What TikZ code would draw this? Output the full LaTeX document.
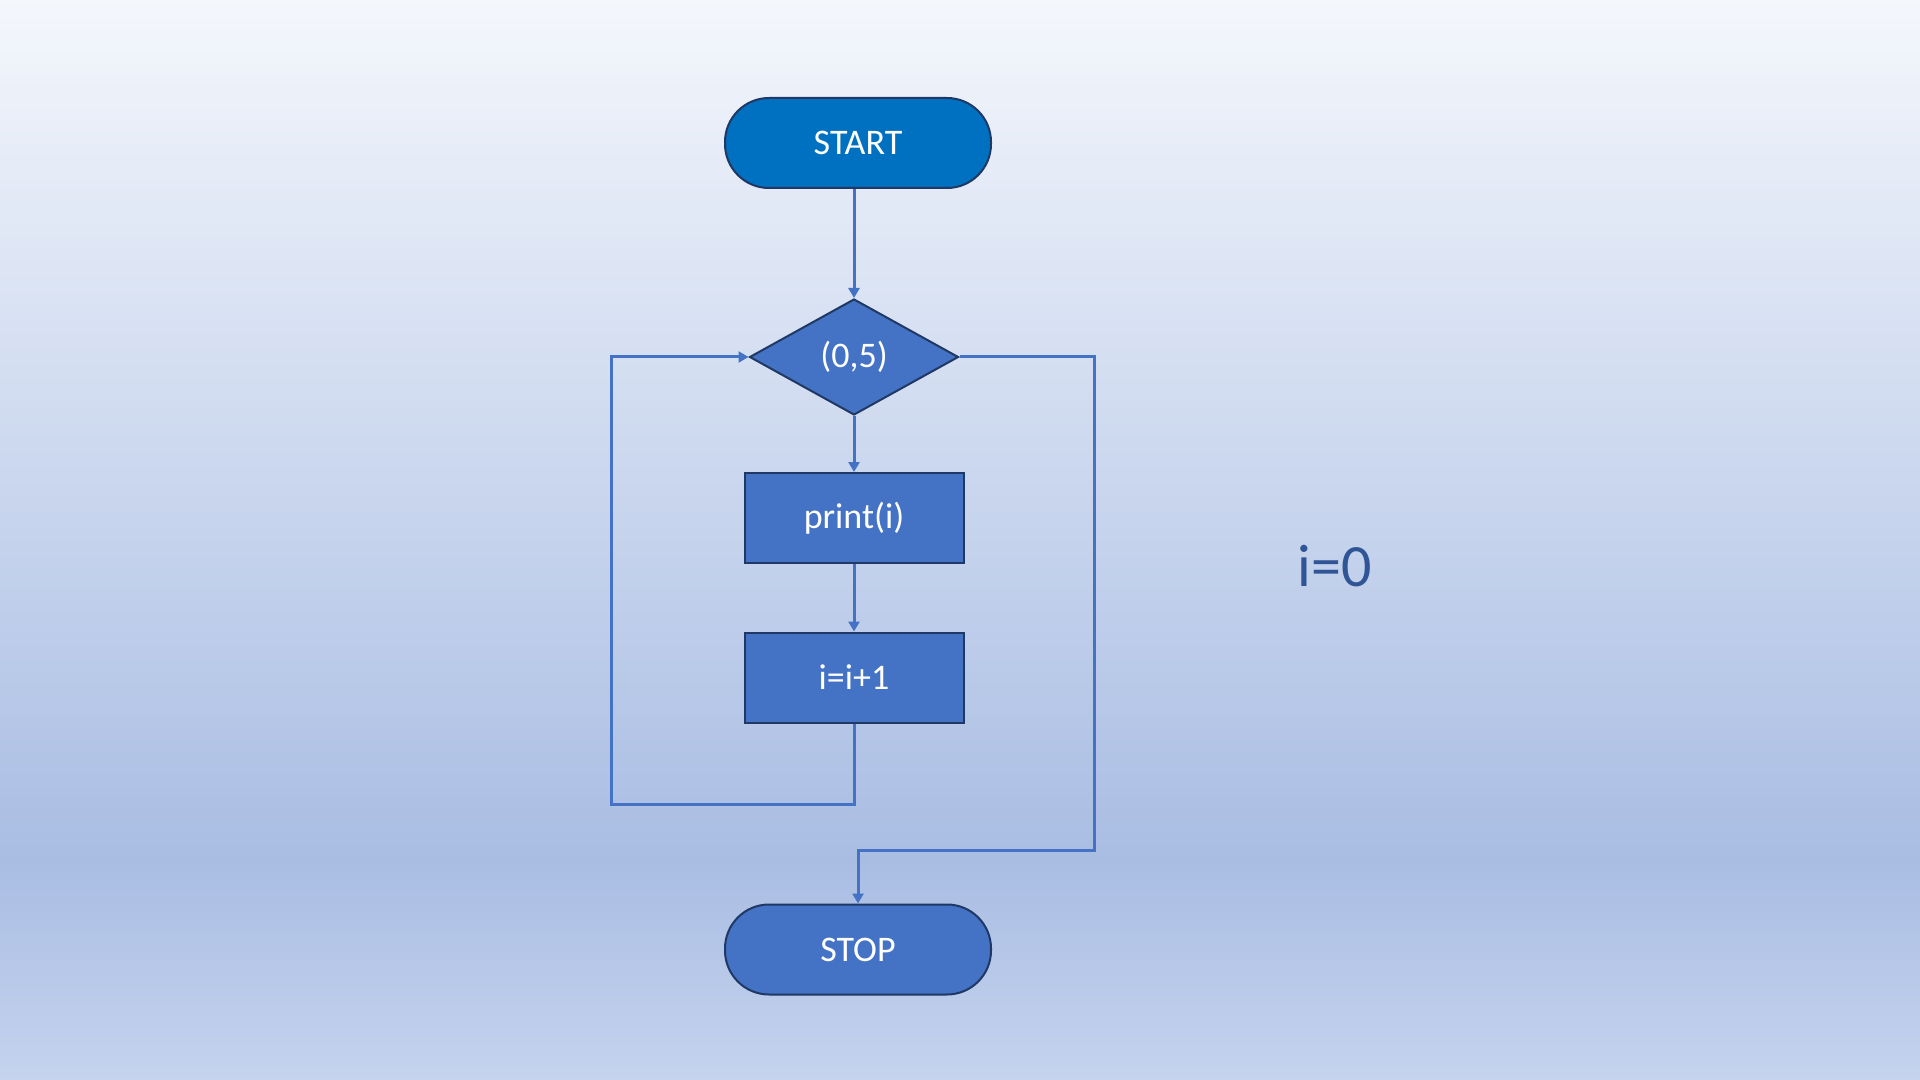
\documentclass[tikz,border=0pt]{standalone}
\usepackage{fontspec}
\setmainfont{Carlito}
\usetikzlibrary{arrows.meta,shapes.geometric}
\definecolor{bgtop}{HTML}{F4F7FC}
\definecolor{bgdark}{HTML}{A9BDE3}
\definecolor{bgbot}{HTML}{C5D3EE}
\definecolor{startfill}{HTML}{0070C0}
\definecolor{boxfill}{HTML}{4472C4}
\definecolor{outline}{HTML}{1F3864}
\definecolor{conn}{HTML}{4472C4}
\definecolor{vartext}{HTML}{2F5597}
\tikzset{
  base/.style={draw=outline, line width=1pt, text=white, inner sep=0pt,
    font=\fontsize{18pt}{21pt}\selectfont},
  terminal/.style={base, rectangle, rounded corners=22pt, minimum width=133pt, minimum height=45pt},
  procbox/.style={base, rectangle, fill=boxfill, minimum width=109.5pt, minimum height=45pt},
  decision/.style={base, diamond, fill=boxfill, minimum width=104.5pt, minimum height=58pt},
  flow/.style={draw=conn, line width=1.5pt, -{Triangle[length=5pt,width=5.5pt]}},
  flowline/.style={draw=conn, line width=1.5pt}
}
\begin{document}
\begin{tikzpicture}[x=0.5pt,y=-0.5pt]
\useasboundingbox (0,0) rectangle (1920,1080);
\shade[top color=bgtop, bottom color=bgdark] (0,0) rectangle (1920,860);
\shade[top color=bgdark, bottom color=bgbot] (0,860) rectangle (1920,1080);

\node[terminal, fill=startfill] (start) at (858,143) {START};
\node[decision] (dec) at (854,357) {(0,5)};
\node[procbox] (print) at (854,518) {print(i)};
\node[procbox] (inc) at (854,677.5) {i=i+1};
\node[terminal, fill=boxfill] (stop) at (858,949.5) {STOP};
\node[font=\fontsize{30pt}{36pt}\selectfont, text=vartext, inner sep=0pt] (ivar) at (1335,566) {i=0};

\coordinate (lb) at (854,804);
\coordinate (ll) at (611,804);
\coordinate (lt) at (611,357);
\coordinate (rt) at (1094,357);
\coordinate (rb) at (1094,850);
\coordinate (sb) at (858,850);

\draw[flow] (start.south -| dec.north) -- (dec.north);
\draw[flow] (dec.south) -- (print.north);
\draw[flow] (print.south) -- (inc.north);
\draw[flow] (inc.south) -- (lb) -- (ll) -- (lt) -- (dec.west);
\draw[flow] (dec.east) -- (rt) -- (rb) -- (sb) -- (stop.north);
\end{tikzpicture}
\end{document}
